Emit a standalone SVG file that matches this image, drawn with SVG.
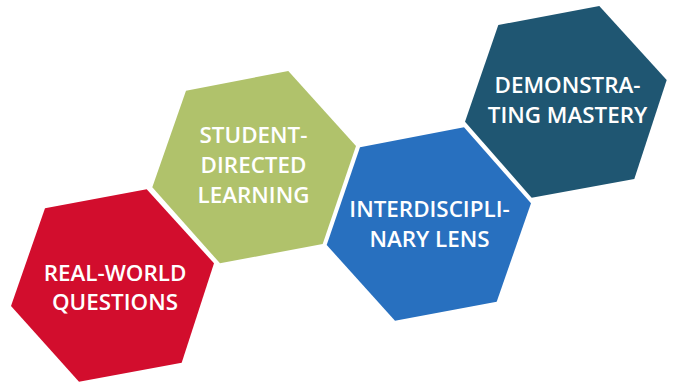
<svg xmlns="http://www.w3.org/2000/svg" width="673" height="386" viewBox="0 0 673 386">
<style>
.lbl{font-family:"Open Sans","Liberation Sans",sans-serif;font-weight:600;font-size:22.4px;fill:#fff;text-anchor:middle}
</style>
<rect width="673" height="386" fill="#fff"/>
<g id="real-world">
<polygon points="45,208.3 146.7,189.3 214,263.3 181.7,362.7 79,381.7 11,306" fill="#D20D2D"/>
<text class="lbl" x="115" y="281">REAL-WORLD</text>
<text class="lbl" x="115" y="310">QUESTIONS</text>
</g>
<g id="student-directed">
<polygon points="186,90.7 288.3,71 356,146 322.7,244 220,263.3 152.3,187.3" fill="#B0C26B"/>
<text class="lbl" x="253.5" y="142.7">STUDENT-</text>
<text class="lbl" x="253.5" y="172.7">DIRECTED</text>
<text class="lbl" x="253.5" y="202.7">LEARNING</text>
</g>
<g id="interdisciplinary">
<polygon points="360,147.3 464,127.3 531,203.3 496.7,301.7 395,320.7 326.7,245" fill="#2870BF"/>
<text class="lbl" x="429.5" y="216.7">INTERDISCIPLI-</text>
<text class="lbl" x="429.5" y="246.7">NARY LENS</text>
</g>
<g id="mastery">
<polygon points="498.3,25 599.3,6 666.7,80 634.3,179 531.7,197.7 465,121.7" fill="#1F5672"/>
<text class="lbl" x="567.5" y="93.3">DEMONSTRA-</text>
<text class="lbl" x="567.5" y="123.3">TING MASTERY</text>
</g>
<g id="connectors"/>
</svg>
